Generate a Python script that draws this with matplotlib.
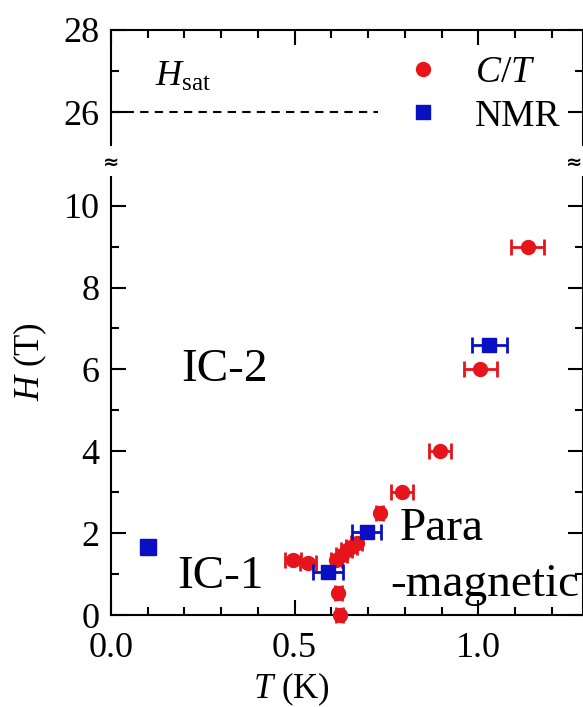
import numpy as np
import matplotlib
matplotlib.use('Agg')
import matplotlib.pyplot as plt
from matplotlib.lines import Line2D
from matplotlib.ticker import MultipleLocator, FormatStrFormatter

plt.rcParams['font.family'] = ['Liberation Serif', 'DejaVu Sans']
plt.rcParams['mathtext.fontset'] = 'custom'
plt.rcParams['mathtext.rm'] = 'Liberation Serif'
plt.rcParams['mathtext.it'] = 'Liberation Serif:italic'

# C/T data (red circles)
ct_T = [1.135, 1.005, 0.895, 0.792, 0.732, 0.669, 0.655, 0.642, 0.628, 0.614,
        0.537, 0.496, 0.619, 0.623]
ct_H = [9.0, 6.0, 4.0, 3.0, 2.5, 1.75, 1.67, 1.59, 1.46, 1.34,
        1.26, 1.34, 0.53, 0.0]
ct_err = [0.045, 0.045, 0.03, 0.03, 0.01, 0.015, 0.015, 0.015, 0.015, 0.015,
          0.022, 0.022, 0.01, 0.01]

# NMR data (blue squares)
nmr_T = [0.10, 0.591, 0.696, 1.03]
nmr_H = [1.66, 1.06, 2.03, 6.6]
nmr_err = [0.0, 0.04, 0.04, 0.048]

H_sat = 26.0

red = '#e8141c'
blue = '#0a0fc4'

fig = plt.figure(figsize=(5.83, 7.07), dpi=100)
ax_top = fig.add_axes([0.190, 0.795, 0.810, 0.1626])
ax = fig.add_axes([0.190, 0.130, 0.810, 0.6197])

fs = 26
for a in (ax_top, ax):
    a.set_xlim(0, 1.285)
    a.xaxis.set_major_locator(MultipleLocator(0.5))
    a.xaxis.set_minor_locator(MultipleLocator(0.1))
    a.yaxis.set_minor_locator(MultipleLocator(1))
    a.yaxis.set_major_locator(MultipleLocator(2))
    a.tick_params(which='both', direction='in', width=1.5, labelsize=fs,
                  left=True, right=True, pad=8)
    a.tick_params(which='major', length=11)
    a.tick_params(which='minor', length=6)
    for s in a.spines.values():
        s.set_linewidth(1.5)

ax_top.set_ylim(25.2, 28)
ax_top.spines['bottom'].set_visible(False)
ax_top.tick_params(which='both', top=True, bottom=False, labelbottom=False)

ax.set_ylim(0, 10.7)
ax.spines['top'].set_visible(False)
ax.tick_params(which='both', top=False, bottom=True)
ax.tick_params(axis='x', pad=12)
ax.xaxis.set_major_formatter(FormatStrFormatter('%.1f'))

# H_sat dashed line
ax_top.plot([0, 0.727], [H_sat, H_sat], 'k--', lw=1.5, dashes=(4, 3))
ax_top.text(0.12, 26.85, r'$H_{\rm sat}$', fontsize=26, ha='left', va='center')

# data
ax.errorbar(ct_T, ct_H, xerr=ct_err, fmt='o', color=red, ms=10, elinewidth=2,
            capsize=5.5, capthick=2, clip_on=False, zorder=3)

nT = np.array(nmr_T)
nH = np.array(nmr_H)
nE = np.array(nmr_err)
has_err = nE > 0
ax.errorbar(nT[has_err], nH[has_err], xerr=nE[has_err], fmt='s', color=blue,
            ms=10.5, elinewidth=2, capsize=5.5, capthick=2, clip_on=False, zorder=4)
ax.plot(nT[~has_err], nH[~has_err], 's', color=blue, ms=11, zorder=4)

# phase labels
ax.text(0.192, 6.0, 'IC-2', fontsize=34, ha='left', va='center')
ax.text(0.18, 0.93, 'IC-1', fontsize=34, ha='left', va='center')
ax.text(0.787, 2.1, 'Para', fontsize=34, ha='left', va='center')
ax.text(0.76, 0.75, '-magnetic', fontsize=34, ha='left', va='center')

# legend
handles = [Line2D([], [], marker='o', ls='none', color=red, ms=10),
           Line2D([], [], marker='s', ls='none', color=blue, ms=10)]
fig.legend(handles, [r'$C$/$T$', 'NMR'], loc='upper left',
           bbox_to_anchor=(404 / 583, 0.922), frameon=False, fontsize=27,
           handlelength=1.0, handletextpad=0.9, labelspacing=0.25,
           borderpad=0, borderaxespad=0)

# axis break marks
fig.text(0.190, 0.771, '\u2248', fontsize=14, ha='center', va='center',
         family='DejaVu Sans', weight='bold')
fig.text(0.985, 0.771, '\u2248', fontsize=14, ha='center', va='center',
         family='DejaVu Sans', weight='bold')

# axis labels
fig.text(0.052, 0.488, r'$H$ (T)', fontsize=25, rotation=90, ha='center', va='center')
fig.text(0.50, 0.025, r'$T$ (K)', fontsize=25, ha='center', va='center')

fig.savefig('out.png', dpi=100)
